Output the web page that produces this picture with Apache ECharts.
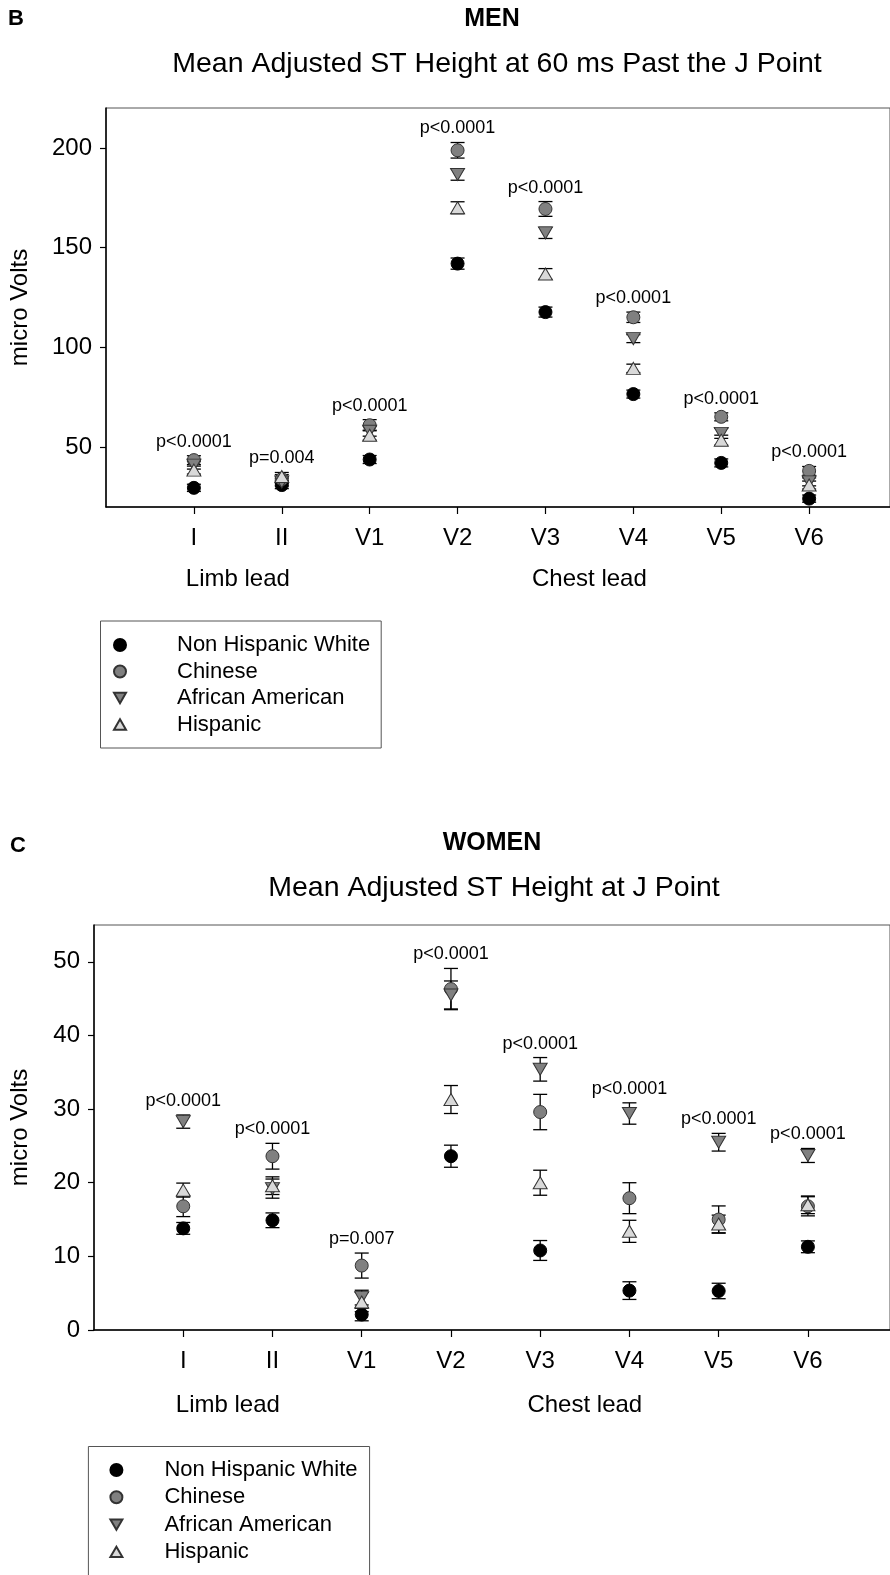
<!DOCTYPE html>
<html><head><meta charset="utf-8">
<script src="https://cdn.jsdelivr.net/npm/echarts@6/dist/echarts.min.js"></script>
<style>html,body{margin:0;padding:0;background:#fff}#c{width:890px;height:1575px}</style>
</head><body><div id="c"></div>
<script>
const categories = ['I', 'II', 'V1', 'V2', 'V3', 'V4', 'V5', 'V6'];
const groups = ['Non Hispanic White', 'Chinese', 'African American', 'Hispanic'];

// MEN: mean adjusted ST height at 60 ms past J point (micro Volts)
const menNHW      = [29.6, 31.0, 43.8, 142.0, 117.7, 76.6, 42.1, 24.2];
const menChinese  = [43.5, 34.0, 61.0, 198.8, 169.4, 115.1, 65.2, 38.1];
const menAA       = [41.0, 32.5, 58.0, 186.7, 157.4, 104.4, 56.9, 32.6];
const menHispanic = [38.5, 35.3, 56.0, 170.0, 136.8, 89.5, 53.5, 31.0];
const menNHWErr      = [1.8, 1.8, 2.0, 2.8, 2.5, 2.0, 2.0, 1.8];
const menChineseErr  = [2.2, 2.2, 2.8, 3.9, 3.7, 2.6, 2.0, 2.2];
const menAAErr       = [2.0, 2.0, 2.5, 2.9, 2.8, 2.0, 2.5, 2.0];
const menHispanicErr = [2.0, 2.0, 2.5, 3.0, 2.7, 2.1, 2.5, 2.0];
const menP = ['p<0.0001', 'p=0.004', 'p<0.0001', 'p<0.0001', 'p<0.0001', 'p<0.0001', 'p<0.0001', 'p<0.0001'];

// WOMEN: mean adjusted ST height at J point (micro Volts)
const womenNHW      = [13.8, 14.9, 2.1, 23.6, 10.8, 5.35, 5.3, 11.3];
const womenChinese  = [16.8, 23.6, 8.75, 46.3, 29.6, 17.9, 15.0, 16.8];
const womenAA       = [28.3, 19.2, 4.4, 45.5, 35.4, 29.4, 25.5, 23.7];
const womenHispanic = [19.0, 19.6, 3.8, 31.3, 20.0, 13.4, 14.4, 17.0];
const womenNHWErr      = [0.8, 1.0, 0.85, 1.5, 1.35, 1.2, 1.05, 0.8];
const womenChineseErr  = [1.4, 1.75, 1.7, 2.8, 2.4, 2.1, 1.85, 1.3];
const womenAAErr       = [0.9, 1.3, 1.0, 1.9, 1.6, 1.45, 1.2, 0.95];
const womenHispanicErr = [0.95, 1.2, 1.3, 1.9, 1.7, 1.5, 1.2, 1.2];
const womenP = ['p<0.0001', 'p<0.0001', 'p=0.007', 'p<0.0001', 'p<0.0001', 'p<0.0001', 'p<0.0001', 'p<0.0001'];

const menTicks = [50, 100, 150, 200];
const womenTicks = [0, 10, 20, 30, 40, 50];
const catPositions = [1, 2, 3, 4, 5, 6, 7, 8];

const FONT = "'Liberation Sans', Arial, Helvetica, sans-serif";
const UP = 'path://M1,0 L2,1.732 L0,1.732 Z';
const DOWN = 'path://M0,0 L2,0 L1,1.732 Z';
const styles = [
  {symbol: 'circle', size: 13, color: '#000000', border: '#000000'},
  {symbol: 'circle', size: 13, color: '#808080', border: '#333333'},
  {symbol: DOWN, size: [14, 12], color: '#808080', border: '#333333'},
  {symbol: UP, size: [14, 12], color: '#d9d9d9', border: '#333333'}
];

const chart = echarts.init(document.getElementById('c'));

function errSeries(name, means, errs, gi) {
  return {
    type: 'custom', name: name + ' SE', xAxisIndex: gi, yAxisIndex: gi, z: 2, silent: true,
    data: means.map((m, i) => [catPositions[i], m - errs[i], m + errs[i]]),
    renderItem(params, api) {
      const x = api.value(0);
      const lo = api.coord([x, api.value(1)]);
      const hi = api.coord([x, api.value(2)]);
      const hw = 7;
      const st = {stroke: '#000', lineWidth: 1.3};
      return {type: 'group', children: [
        {type: 'line', shape: {x1: lo[0], y1: lo[1], x2: hi[0], y2: hi[1]}, style: st},
        {type: 'line', shape: {x1: lo[0] - hw, y1: lo[1], x2: lo[0] + hw, y2: lo[1]}, style: st},
        {type: 'line', shape: {x1: hi[0] - hw, y1: hi[1], x2: hi[0] + hw, y2: hi[1]}, style: st}
      ]};
    }
  };
}
function markSeries(gIdx, means, gi) {
  const s = styles[gIdx];
  return {
    type: 'scatter', name: groups[gIdx], xAxisIndex: gi, yAxisIndex: gi, z: 3, silent: true,
    symbol: s.symbol, symbolSize: s.size,
    itemStyle: {color: s.color, borderColor: s.border, borderWidth: 1, opacity: 1},
    data: means.map((m, i) => [catPositions[i], m])
  };
}
function pSeries(labels, sets, gi) {
  const data = labels.map((t, i) => {
    let top = -Infinity;
    sets.forEach(([m, e]) => { top = Math.max(top, m[i] + e[i]); });
    return {value: [catPositions[i], top], label: {formatter: t}};
  });
  return {
    type: 'scatter', name: 'p' + gi, xAxisIndex: gi, yAxisIndex: gi, z: 4, silent: true,
    symbolSize: 0, data, itemStyle: {opacity: 1, color: '#000'},
    label: {show: true, position: 'top', distance: 5, color: '#000', opacity: 1, fontSize: 18, fontFamily: FONT}
  };
}
function xAxis(gi) {
  return {
    type: 'value', gridIndex: gi, min: 0, max: 8.92,
    axisLine: {show: true, onZero: false, lineStyle: {color: '#000', width: 1.5}},
    axisTick: {show: true, customValues: catPositions, length: 7, lineStyle: {color: '#000', width: 1.2}},
    axisLabel: {customValues: catPositions, formatter: v => categories[Math.round(v) - 1],
      fontSize: 24, color: '#000', fontFamily: FONT, margin: 19},
    splitLine: {show: false}
  };
}
function yAxis(gi, min, max, ticks, gap) {
  return {
    type: 'value', gridIndex: gi, min, max,
    name: 'micro Volts', nameLocation: 'middle', nameGap: gap,
    nameTextStyle: {fontSize: 24, color: '#000', fontFamily: FONT},
    axisLine: {show: true, lineStyle: {color: '#000', width: 1.5}},
    axisTick: {show: true, customValues: ticks, length: 6, lineStyle: {color: '#000', width: 1.2}},
    axisLabel: {customValues: ticks, fontSize: 24, color: '#000', fontFamily: FONT, margin: 14},
    splitLine: {show: false}
  };
}
function legend(left, top, pad, textPad, gap) {
  return {
    data: groups, orient: 'vertical', left, top, height: 300, padding: pad, itemGap: gap,
    itemWidth: 12, itemHeight: 12, borderColor: '#555', borderWidth: 1, borderRadius: 0,
    selectedMode: false,
    textStyle: {fontSize: 22, lineHeight: 22, color: '#000', fontFamily: FONT, padding: [0, 0, 0, textPad]}
  };
}

const menSets = [[menNHW, menNHWErr], [menChinese, menChineseErr], [menAA, menAAErr], [menHispanic, menHispanicErr]];
const womenSets = [[womenNHW, womenNHWErr], [womenChinese, womenChineseErr], [womenAA, womenAAErr], [womenHispanic, womenHispanicErr]];

const series = [];
[[menSets, 0], [womenSets, 1]].forEach(([sets, gi]) => {
  sets.forEach(([m, e], k) => series.push(errSeries(groups[k], m, e, gi)));
  sets.forEach(([m], k) => series.push(markSeries(k, m, gi)));
});
series.push(pSeries(menP, menSets, 0));
series.push(pSeries(womenP, womenSets, 1));

chart.setOption({
  animation: false,
  backgroundColor: '#fff',
  grid: [
    {left: 101.5, top: 108, width: 789.5, height: 399, show: true, borderColor: '#555', borderWidth: 1, containLabel: false},
    {left: 88.5, top: 925, width: 802, height: 405, show: true, borderColor: '#555', borderWidth: 1, containLabel: false}
  ],
  xAxis: [xAxis(0), xAxis(1)],
  yAxis: [yAxis(0, 20, 220, menTicks, 74), yAxis(1, 0, 55, womenTicks, 62)],
  legend: [legend(100.5, 621, [13, 11, 12.5, 12.5], 46, 4.5), legend(88.4, 1446.5, [12.5, 12, 14, 21], 37, 5.3)],
  series
});

function px(gi, v) { return chart.convertToPixel({xAxisIndex: gi}, v); }
function mean(a) { return a.reduce((s, v) => s + v, 0) / a.length; }
const limbPos = mean(catPositions.slice(0, 2));
const chestPos = mean(catPositions.slice(2));
const txt = (x, y, text, size, weight, align) => ({
  type: 'text', x, y, silent: true,
  style: {text, fontSize: size, fontWeight: weight || 'normal', fontFamily: FONT, fill: '#000',
    align: align || 'center', verticalAlign: 'middle'}
});
chart.setOption({
  graphic: [
    txt(8, 19, 'B', 22, 'bold', 'left'),
    txt(492, 19, 'MEN', 25, 'bold'),
    txt(497, 64, 'Mean Adjusted ST Height at 60 ms Past the J Point', 28.5),
    txt(px(0, limbPos), 579, 'Limb lead', 24),
    txt(px(0, chestPos), 579, 'Chest lead', 24),
    txt(10, 846, 'C', 22, 'bold', 'left'),
    txt(492, 843, 'WOMEN', 25, 'bold'),
    txt(494, 888, 'Mean Adjusted ST Height at J Point', 28.5),
    txt(px(1, limbPos), 1405, 'Limb lead', 24),
    txt(px(1, chestPos), 1405, 'Chest lead', 24)
  ]
});
</script></body></html>
